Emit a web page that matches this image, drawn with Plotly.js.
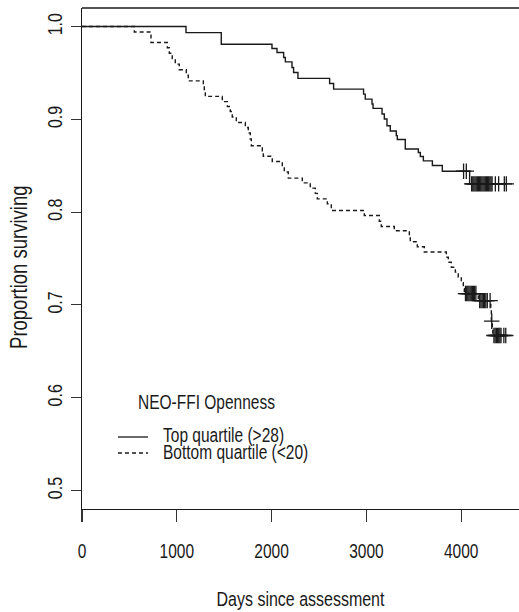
<!DOCTYPE html>
<html>
<head>
<meta charset="utf-8">
<script src="https://cdn.plot.ly/plotly-3.0.1.min.js"></script>
<style>html,body{margin:0;padding:0;background:#fff;}#chart{width:519px;height:612px;}</style>
</head>
<body>
<div id="chart"></div>
<script>
// Top quartile (>28): step times (days) and survival after each step
const topDays = [0, 1097, 1469, 2004, 2057, 2127, 2145, 2215, 2232, 2278, 2612, 2654, 2970, 2988, 3059, 3070, 3165, 3189, 3217, 3252, 3315, 3326, 3410, 3548, 3569, 3601, 3696, 3801, 4089, 4476];
const topSurv = [1.0, 0.9935, 0.981, 0.9763, 0.972, 0.9667, 0.9619, 0.9559, 0.9505, 0.9441, 0.9387, 0.9326, 0.9272, 0.9218, 0.9165, 0.9118, 0.9057, 0.9003, 0.8931, 0.8874, 0.8824, 0.8783, 0.8681, 0.8643, 0.8600, 0.8552, 0.8503, 0.8441, 0.8304, 0.8304];
// Top quartile censored observations
const topCensDays = [4025, 4054, 4110, 4122, 4134, 4146, 4158, 4170, 4182, 4194, 4206, 4218, 4230, 4242, 4254, 4266, 4278, 4290, 4302, 4314, 4326, 4360, 4395, 4455, 4476];
const topCensSurv = [0.8441, 0.8441, 0.8304, 0.8304, 0.8304, 0.8304, 0.8304, 0.8304, 0.8304, 0.8304, 0.8304, 0.8304, 0.8304, 0.8304, 0.8304, 0.8304, 0.8304, 0.8304, 0.8304, 0.8304, 0.8304, 0.8304, 0.8304, 0.8304, 0.8304];

// Bottom quartile (<20)
const botDays = [0, 552, 728, 900, 921, 952, 984, 1026, 1100, 1121, 1280, 1290, 1301, 1480, 1533, 1564, 1585, 1628, 1723, 1754, 1775, 1786, 1902, 1912, 2007, 2113, 2134, 2176, 2324, 2408, 2461, 2482, 2588, 2630, 2978, 3136, 3157, 3294, 3453, 3463, 3537, 3611, 3843, 3864, 3896, 3938, 3969, 4001, 4022, 4033, 4180, 4312, 4318, 4328, 4333, 4470];
const botSurv = [1.0, 0.9942, 0.9828, 0.9772, 0.9713, 0.9654, 0.9595, 0.9535, 0.9476, 0.9415, 0.9358, 0.9304, 0.9247, 0.9191, 0.9138, 0.9084, 0.9025, 0.8966, 0.8912, 0.8853, 0.8788, 0.8716, 0.8659, 0.8602, 0.8546, 0.8492, 0.8433, 0.8366, 0.8315, 0.8258, 0.8202, 0.8143, 0.8089, 0.8017, 0.7963, 0.7901, 0.7845, 0.7799, 0.7740, 0.7681, 0.7627, 0.7570, 0.7514, 0.7460, 0.7406, 0.7353, 0.7299, 0.7240, 0.7175, 0.7122, 0.7046, 0.6949, 0.6824, 0.6745, 0.6670, 0.6670];
const botCensDays = [4045, 4058, 4070, 4082, 4094, 4106, 4118, 4130, 4142, 4155, 4195, 4208, 4221, 4234, 4247, 4260, 4275, 4305, 4322, 4345, 4358, 4371, 4384, 4396, 4408, 4420, 4450, 4470];
const botCensSurv = [0.7122, 0.7122, 0.7122, 0.7122, 0.7122, 0.7122, 0.7122, 0.7122, 0.7122, 0.7122, 0.7046, 0.7046, 0.7046, 0.7046, 0.7046, 0.7046, 0.7046, 0.7046, 0.6824, 0.6670, 0.6670, 0.6670, 0.6670, 0.6670, 0.6670, 0.6670, 0.6670, 0.6670];

const xTickVals = [0, 1000, 2000, 3000, 4000];
const yTickVals = [0.5, 0.6, 0.7, 0.8, 0.9, 1.0];
const yTickText = ["0.5", "0.6", "0.7", "0.8", "0.9", "1.0"];

const xTitle = "Days since assessment";
const yTitle = "Proportion surviving";
const legendTitle = "NEO-FFI Openness";
const seriesNames = ["Top quartile (>28)", "Bottom quartile (<20)"];

const font = "Liberation Sans, Arial, sans-serif";
const ink = "#1a1a1a";

const traces = [
  {x: topDays, y: topSurv, mode: "lines", line: {shape: "hv", color: ink, width: 1.4}, name: seriesNames[0], showlegend: false, hoverinfo: "skip"},
  {x: botDays, y: botSurv, mode: "lines", line: {shape: "hv", color: ink, width: 1.4, dash: "4px,3px"}, name: seriesNames[1], showlegend: false, hoverinfo: "skip"},
  {x: topCensDays, y: topCensSurv, mode: "markers", marker: {symbol: "cross-thin", size: 11, line: {color: ink, width: 1.3}}, showlegend: false, hoverinfo: "skip"},
  {x: botCensDays, y: botCensSurv, mode: "markers", marker: {symbol: "cross-thin", size: 11, line: {color: ink, width: 1.3}}, showlegend: false, hoverinfo: "skip"}
];

// legend pixel helpers -> paper coords (plot area x 82..519, y 8..509)
const L = 82, R = 519, T = 8, B = 509;
const px = v => (v - L) / (R - L);
const py = v => (B - v) / (B - T);

const layout = {
  width: 519, height: 612,
  margin: {l: L, r: 519 - R, t: T, b: 612 - B, pad: 0},
  paper_bgcolor: "#fff", plot_bgcolor: "#fff",
  showlegend: false,
  xaxis: {
    range: [0, (R - L) / 94.8 * 1000], tickvals: xTickVals, ticktext: xTickVals.map(String),
    ticks: "outside", ticklen: 12, tickwidth: 1.2, tickcolor: "#333",
    showline: true, linecolor: ink, linewidth: 1.4, showgrid: false, zeroline: false,
    ticklabelstandoff: 17,
    tickfont: {family: font, size: 15.5, color: ink},
    title: {text: xTitle, font: {family: font, size: 16, color: ink}, standoff: 35}
  },
  yaxis: {
    range: [0.48, 1.02], tickvals: yTickVals, ticktext: yTickText, tickangle: -90,
    ticks: "outside", ticklen: 10, tickwidth: 1.2, tickcolor: "#333",
    showline: true, linecolor: ink, linewidth: 1.4, showgrid: false, zeroline: false,
    ticklabelstandoff: 2,
    tickfont: {family: font, size: 16, color: ink},
    title: {text: ""}
  },
  shapes: [
    {type: "line", xref: "paper", yref: "paper", x0: 0, x1: 1, y0: 1, y1: 1, line: {color: ink, width: 1.4}},
    {type: "line", xref: "paper", yref: "paper", x0: px(118), x1: px(148), y0: py(437), y1: py(437), line: {color: ink, width: 1.3}},
    {type: "line", xref: "paper", yref: "paper", x0: px(118), x1: px(148), y0: py(453), y1: py(453), line: {color: ink, width: 1.3, dash: "4px,3px"}}
  ],
  annotations: [
    {xref: "paper", yref: "paper", x: px(20), y: py(267), text: yTitle, textangle: -90, showarrow: false, xanchor: "center", yanchor: "middle", font: {family: font, size: 18.5, color: ink}},
    {xref: "paper", yref: "paper", x: px(206), y: py(403), text: legendTitle, showarrow: false, xanchor: "center", yanchor: "middle", font: {family: font, size: 15.5, color: ink}},
    {xref: "paper", yref: "paper", x: px(161), y: py(436.5), text: seriesNames[0], showarrow: false, xanchor: "left", yanchor: "middle", font: {family: font, size: 15.5, color: ink}},
    {xref: "paper", yref: "paper", x: px(161), y: py(453.5), text: seriesNames[1], showarrow: false, xanchor: "left", yanchor: "middle", font: {family: font, size: 15.5, color: ink}}
  ]
};

// The reference uses a tall, condensed typeface: enlarge glyphs and condense them
// along the reading direction so text keeps its width but gains height.
function condenseText(gd) {
  const k = 1.28;
  gd.querySelectorAll("svg text").forEach(t => {
    const fs = parseFloat(t.style.fontSize);
    if (!fs) return;
    t.style.fontSize = (fs * k) + "px";
    const X = parseFloat(t.getAttribute("x")) || 0;
    const Y = parseFloat(t.getAttribute("y")) || 0;
    const tr = t.getAttribute("transform") || "";
    t.setAttribute("transform", tr + " translate(" + X + "," + Y + ") scale(" + (1 / k) + ",1) translate(" + (-X) + "," + (-Y) + ")");
  });
}

Plotly.newPlot("chart", traces, layout, {staticPlot: true, displayModeBar: false}).then(condenseText);
</script>
</body>
</html>
